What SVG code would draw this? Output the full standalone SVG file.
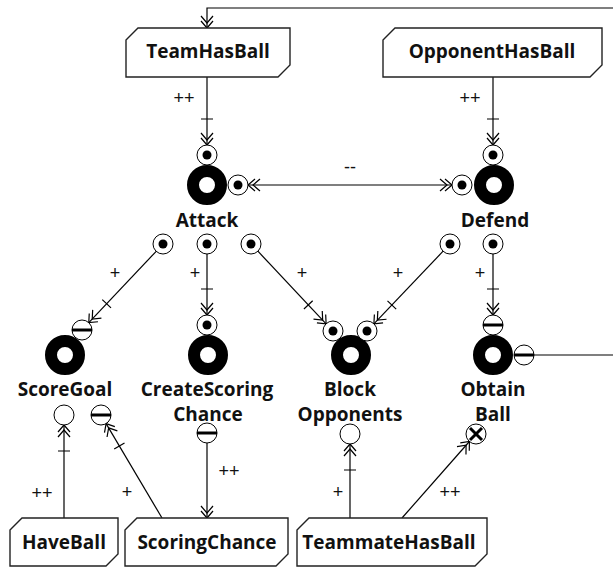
<svg xmlns="http://www.w3.org/2000/svg" width="613" height="567" viewBox="0 0 613 567">
  <style>
    .box { fill: #fff; stroke: #222; stroke-width: 1.4; }
    .boxtxt { font-family: "Open Sans", "Liberation Sans", Arial, sans-serif; font-weight: bold; font-size: 19px; text-anchor: middle; fill: #111; }
    .goal { fill: none; stroke: #000; stroke-width: 12; }
    .goaltxt { font-family: "Open Sans", "Liberation Sans", Arial, sans-serif; font-weight: bold; font-size: 19px; text-anchor: middle; fill: #111; }
    .port { fill: #fff; stroke: #000; stroke-width: 1; }
    .dot { fill: #000; }
    .bar { stroke: #000; stroke-width: 3; }
    .cross { stroke: #000; stroke-width: 3; }
    .link { fill: none; stroke: #000; stroke-width: 1.2; }
    .lbl { font-family: "Liberation Sans", Arial, sans-serif; font-size: 18px; text-anchor: middle; fill: #111; }
  </style>
  <defs>
    <!-- double chevron head -->
    <marker id="head" markerUnits="userSpaceOnUse" orient="auto-start-reverse" markerWidth="1" markerHeight="1" refX="0" refY="0" overflow="visible">
      <path d="M-7,-6 L0,0 L-7,6 M-12,-6 L-5,0 L-12,6" fill="none" stroke="#000" stroke-width="1.2"/>
    </marker>
    <!-- double chevron head with cross tick behind it -->
    <marker id="headTick" markerUnits="userSpaceOnUse" orient="auto" markerWidth="1" markerHeight="1" refX="0" refY="0" overflow="visible">
      <path d="M-7,-6 L0,0 L-7,6 M-12,-6 L-5,0 L-12,6 M-26,-6 L-26,6" fill="none" stroke="#000" stroke-width="1.2"/>
    </marker>
  </defs>

  <!-- connectors -->
  <g id="connectors">
    <path class="link" d="M613,8 L207,8 L207,28" marker-end="url(#head)"/>
    <path class="link" d="M207,77 L207,145" marker-end="url(#headTick)"/>
    <path class="link" d="M493,77 L493,145" marker-end="url(#headTick)"/>
    <path class="link" d="M248,185 L452,185" marker-start="url(#head)" marker-end="url(#head)"/>
    <path class="link" d="M156.2,251.3 L88.8,322.7" marker-end="url(#headTick)"/>
    <path class="link" d="M207,254 L207,315" marker-end="url(#headTick)"/>
    <path class="link" d="M257.9,251.2 L326.1,323.8" marker-end="url(#headTick)"/>
    <path class="link" d="M443.1,251.2 L373.9,323.8" marker-end="url(#headTick)"/>
    <path class="link" d="M493,254 L493,315" marker-end="url(#headTick)"/>
    <path class="link" d="M534,355 L613,355"/>
    <path class="link" d="M64,518 L64,425" marker-end="url(#headTick)"/>
    <path class="link" d="M162,518 L106.1,423.6" marker-end="url(#headTick)"/>
    <path class="link" d="M207,443 L207,518" marker-end="url(#head)"/>
    <path class="link" d="M350,518 L350,444" marker-end="url(#headTick)"/>
    <path class="link" d="M402,518 L469.4,441.5" marker-end="url(#head)"/>

    <text class="lbl" x="184" y="104">++</text>
    <text class="lbl" x="470" y="104">++</text>
    <text class="lbl" x="350" y="173">--</text>
    <text class="lbl" x="115" y="279">+</text>
    <text class="lbl" x="195" y="279">+</text>
    <text class="lbl" x="302" y="279">+</text>
    <text class="lbl" x="398" y="279">+</text>
    <text class="lbl" x="480" y="279">+</text>
    <text class="lbl" x="42" y="499">++</text>
    <text class="lbl" x="127" y="498">+</text>
    <text class="lbl" x="229" y="477">++</text>
    <text class="lbl" x="338" y="498">+</text>
    <text class="lbl" x="450" y="498">++</text>
  </g>

  <!-- belief / resource boxes -->
  <g id="TeamHasBall">
    <path class="box" d="M126,40 L138,28 L290,28 L290,65 L278,77 L126,77 Z"/>
    <text class="boxtxt" x="208" y="58">TeamHasBall</text>
  </g>
  <g id="OpponentHasBall">
    <path class="box" d="M383,40 L395,28 L602,28 L602,65 L590,77 L383,77 Z"/>
    <text class="boxtxt" x="492" y="58">OpponentHasBall</text>
  </g>
  <g id="HaveBall">
    <path class="box" d="M10,530 L22,518 L118,518 L118,554 L106,566 L10,566 Z"/>
    <text class="boxtxt" x="64" y="549">HaveBall</text>
  </g>
  <g id="ScoringChance">
    <path class="box" d="M125,530 L137,518 L288,518 L288,554 L276,566 L125,566 Z"/>
    <text class="boxtxt" x="207" y="549">ScoringChance</text>
  </g>
  <g id="TeammateHasBall">
    <path class="box" d="M297,530 L309,518 L487,518 L487,554 L475,566 L297,566 Z"/>
    <text class="boxtxt" x="389" y="549">TeammateHasBall</text>
  </g>

  <!-- goals with their ports -->
  <g id="Attack">
    <circle class="goal" cx="207" cy="185" r="14"/>
    <circle class="port" cx="207" cy="155" r="10"/><circle class="dot" cx="207" cy="155" r="4.5"/>
    <circle class="port" cx="238" cy="185" r="10"/><circle class="dot" cx="238" cy="185" r="4.5"/>
    <circle class="port" cx="163" cy="244" r="10"/><circle class="dot" cx="163" cy="244" r="4.5"/>
    <circle class="port" cx="207" cy="244" r="10"/><circle class="dot" cx="207" cy="244" r="4.5"/>
    <circle class="port" cx="251" cy="244" r="10"/><circle class="dot" cx="251" cy="244" r="4.5"/>
    <text class="goaltxt" x="207" y="227">Attack</text>
  </g>
  <g id="Defend">
    <circle class="goal" cx="494" cy="185" r="14"/>
    <circle class="port" cx="493" cy="155" r="10"/><circle class="dot" cx="493" cy="155" r="4.5"/>
    <circle class="port" cx="462" cy="185" r="10"/><circle class="dot" cx="462" cy="185" r="4.5"/>
    <circle class="port" cx="450" cy="244" r="10"/><circle class="dot" cx="450" cy="244" r="4.5"/>
    <circle class="port" cx="493" cy="244" r="10"/><circle class="dot" cx="493" cy="244" r="4.5"/>
    <text class="goaltxt" x="495" y="227">Defend</text>
  </g>
  <g id="ScoreGoal">
    <circle class="goal" cx="65" cy="355" r="14"/>
    <circle class="port" cx="82" cy="330" r="10"/><line class="bar" x1="72" y1="330" x2="92" y2="330"/>
    <circle class="port" cx="64" cy="415" r="10"/>
    <circle class="port" cx="101" cy="415" r="10"/><line class="bar" x1="91" y1="415" x2="111" y2="415"/>
    <text class="goaltxt" x="65" y="396">ScoreGoal</text>
  </g>
  <g id="CreateScoringChance">
    <circle class="goal" cx="208" cy="355" r="14"/>
    <circle class="port" cx="207" cy="325" r="10"/><circle class="dot" cx="207" cy="325" r="4.5"/>
    <circle class="port" cx="207" cy="433" r="10"/><line class="bar" x1="197" y1="433" x2="217" y2="433"/>
    <text class="goaltxt" x="207" y="396">CreateScoring</text>
    <text class="goaltxt" x="208" y="421">Chance</text>
  </g>
  <g id="BlockOpponents">
    <circle class="goal" cx="351" cy="355" r="14"/>
    <circle class="port" cx="333" cy="331" r="10"/><circle class="dot" cx="333" cy="331" r="4.5"/>
    <circle class="port" cx="367" cy="331" r="10"/><circle class="dot" cx="367" cy="331" r="4.5"/>
    <circle class="port" cx="350" cy="434" r="10"/>
    <text class="goaltxt" x="350" y="396">Block</text>
    <text class="goaltxt" x="350" y="421">Opponents</text>
  </g>
  <g id="ObtainBall">
    <circle class="goal" cx="493" cy="355" r="14"/>
    <circle class="port" cx="493" cy="325" r="10"/><line class="bar" x1="483" y1="325" x2="503" y2="325"/>
    <circle class="port" cx="524" cy="355" r="10"/><line class="bar" x1="514" y1="355" x2="534" y2="355"/>
    <circle class="port" cx="476" cy="434" r="10"/>
    <line class="cross" x1="470" y1="428" x2="482" y2="440"/><line class="cross" x1="482" y1="428" x2="470" y2="440"/>
    <text class="goaltxt" x="493" y="396">Obtain</text>
    <text class="goaltxt" x="493" y="421">Ball</text>
  </g>
</svg>
